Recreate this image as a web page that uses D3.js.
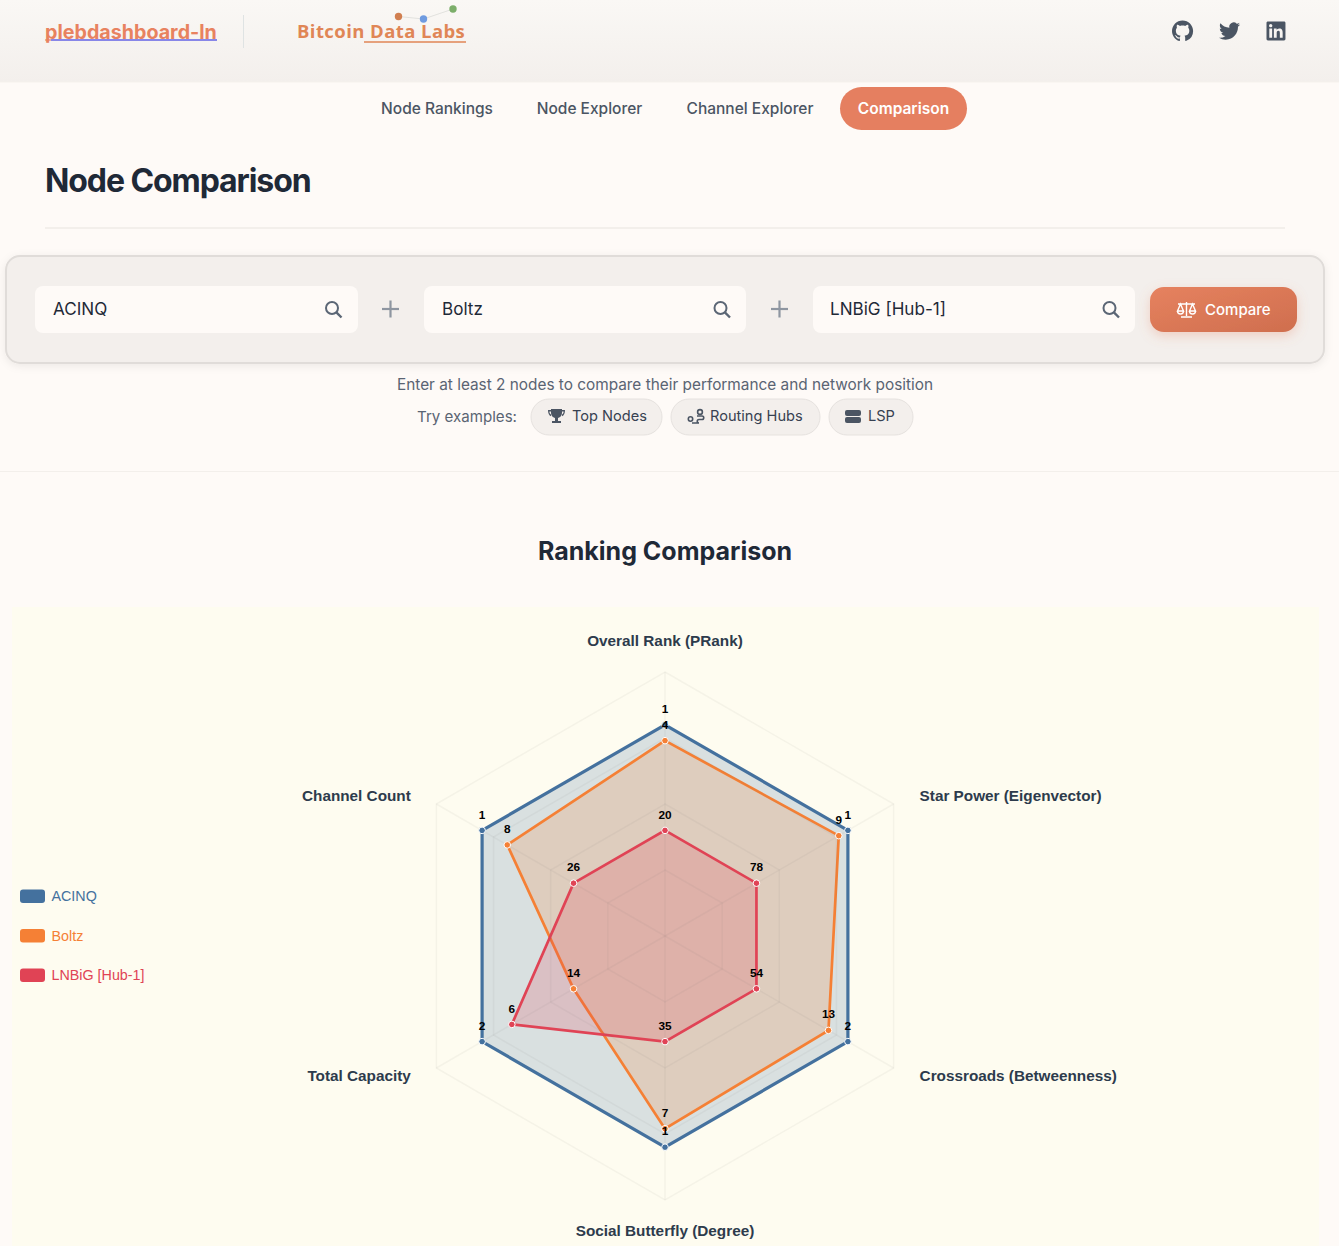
<!DOCTYPE html>
<html><head><meta charset="utf-8">
<script src="https://cdn.jsdelivr.net/npm/d3@7/dist/d3.min.js"></script>
<style>
html,body{margin:0;padding:0;background:#fefaf7;overflow:hidden}
svg{display:block}
text{font-family:Inter,"Noto Sans",sans-serif}
.chart text{font-family:"Liberation Sans",Arial,sans-serif}
</style></head><body>
<script>
const axes = ["Overall Rank (PRank)","Star Power (Eigenvector)","Crossroads (Betweenness)","Social Butterfly (Degree)","Total Capacity","Channel Count"];
const nodes = ["ACINQ","Boltz","LNBiG [Hub-1]"];
const colors = ["#44719e","#f58035","#e04355"];
const acinqRanks = [1,1,2,1,2,1];
const boltzRanks = [4,9,13,7,14,8];
const lnbigRanks = [20,78,54,35,6,26];
const acinqScores = [80,80,80,80,80,80];
const boltzScores = [74,76,71.5,73,40,69];
const lnbigScores = [40,40,40,40,67,40];
const gridLevels = [25,50,75,100];
const navItems = ["Node Rankings","Node Explorer","Channel Explorer","Comparison"];
const inputValues = ["ACINQ","Boltz","LNBiG [Hub-1]"];
const examples = ["Top Nodes","Routing Hubs","LSP"];

const W=1339,H=1246;
const svg=d3.select("body").append("svg").attr("width",W).attr("height",H).attr("viewBox",`0 0 ${W} ${H}`);
const defs=svg.append("defs");
const hg=defs.append("linearGradient").attr("id","hdr").attr("x1",0).attr("x2",0).attr("y1",0).attr("y2",1);
hg.append("stop").attr("offset",0).attr("stop-color","#faf8f5");
hg.append("stop").attr("offset",1).attr("stop-color","#f3efec");
const bg=defs.append("linearGradient").attr("id","btn").attr("x1",0).attr("x2",1).attr("y1",0).attr("y2",1);
bg.append("stop").attr("offset",0).attr("stop-color","#e6825f");
bg.append("stop").attr("offset",1).attr("stop-color","#cf6e4e");
const sh=defs.append("filter").attr("id","sh").attr("x","-10%").attr("y","-30%").attr("width","120%").attr("height","170%");
sh.append("feDropShadow").attr("dx",0).attr("dy",2).attr("stdDeviation",4).attr("flood-color","#000").attr("flood-opacity",.07);
const sb=defs.append("filter").attr("id","sb").attr("x","-20%").attr("y","-40%").attr("width","140%").attr("height","190%");
sb.append("feDropShadow").attr("dx",0).attr("dy",4).attr("stdDeviation",6).attr("flood-color","#e5805f").attr("flood-opacity",.3);

function rect(x,y,w,h,r,fill,extra={}){const s=svg.append("rect").attr("x",x).attr("y",y).attr("width",w).attr("height",h).attr("rx",r).attr("fill",fill);Object.entries(extra).forEach(([k,v])=>s.attr(k,v));return s;}
function txt(s,x,y,size,weight,fill,anchor="start",family){const t=svg.append("text").attr("x",x).attr("y",y+1).attr("font-size",size).attr("font-weight",weight).attr("fill",fill).attr("text-anchor",anchor).attr("dominant-baseline","middle").text(s);if(family)t.style("font-family",family);return t;}
function line(x1,y1,x2,y2,c,w){return svg.append("line").attr("x1",x1).attr("y1",y1).attr("x2",x2).attr("y2",y2).attr("stroke",c).attr("stroke-width",w);}
function icon(d,x,y,scale,fill){return svg.append("path").attr("d",d).attr("transform",`translate(${x},${y}) scale(${scale})`).attr("fill",fill).attr("fill-rule","evenodd");}

// header
rect(0,0,W,82,0,"url(#hdr)");
line(0,82,W,82,"#f5f1ed",1);
txt("plebdashboard-ln",45,33,19.7,700,"#e8825f");
line(51,40,217,40,"#1a1ae0",1.2);
line(45,40,51,40,"#e8825f",1.2);
line(243.5,15,243.5,48,"#dfe3e3",1);
txt("Bitcoin Data Labs",297,32.5,18.5,700,"#e08656","start","'Open Sans'").attr("letter-spacing",.42);
line(364,42,466,42,"#e08656",1.6);
const logoDots=[[398.5,16.5,"#d17f50"],[423.5,19,"#6f9be0"],[453,9,"#7cae6a"]];
logoDots.forEach((p,i,a)=>{if(i)line(a[i-1][0],a[i-1][1],p[0],p[1],"#dcdcd8",.8);});
logoDots.forEach(p=>svg.append("circle").attr("cx",p[0]).attr("cy",p[1]).attr("r",3.7).attr("fill",p[2]));

const ic="#4b5563";
icon("M8 0C3.58 0 0 3.58 0 8c0 3.54 2.29 6.53 5.47 7.59.4.07.55-.17.55-.38 0-.19-.01-.82-.01-1.49-2.01.37-2.53-.49-2.69-.94-.09-.23-.48-.94-.82-1.13-.28-.15-.68-.52-.01-.53.63-.01 1.08.58 1.23.82.72 1.21 1.87.87 2.33.66.07-.52.28-.87.51-1.07-1.78-.2-3.64-.89-3.64-3.95 0-.87.31-1.59.82-2.15-.08-.2-.36-1.02.08-2.12 0 0 .67-.21 2.2.82.64-.18 1.32-.27 2-.27.68 0 1.36.09 2 .27 1.53-1.04 2.2-.82 2.2-.82.44 1.1.16 1.92.08 2.12.51.56.82 1.27.82 2.15 0 3.07-1.87 3.75-3.65 3.95.29.25.54.73.54 1.48 0 1.07-.01 1.93-.01 2.2 0 .21.15.46.55.38A8.013 8.013 0 0016 8c0-4.42-3.58-8-8-8z",1172,20.5,1.32,ic);
icon("M23.953 4.57a10 10 0 01-2.825.775 4.958 4.958 0 002.163-2.723c-.951.555-2.005.959-3.127 1.184a4.92 4.92 0 00-8.384 4.482C7.69 8.095 4.067 6.13 1.64 3.162a4.822 4.822 0 00-.666 2.475c0 1.71.87 3.213 2.188 4.096a4.904 4.904 0 01-2.228-.616v.06a4.923 4.923 0 003.946 4.827 4.996 4.996 0 01-2.212.085 4.936 4.936 0 004.604 3.417 9.867 9.867 0 01-6.102 2.105c-.39 0-.779-.023-1.17-.067a13.995 13.995 0 007.557 2.209c9.053 0 13.998-7.496 13.998-13.985 0-.21 0-.42-.015-.63A9.935 9.935 0 0024 4.59z",1219,20.5,.88,ic);
icon("M20.447 20.452h-3.554v-5.569c0-1.328-.027-3.037-1.852-3.037-1.853 0-2.136 1.445-2.136 2.939v5.667H9.351V9h3.414v1.561h.046c.477-.9 1.637-1.85 3.37-1.85 3.601 0 4.267 2.37 4.267 5.455v6.286zM5.337 7.433c-1.144 0-2.063-.926-2.063-2.065 0-1.138.92-2.063 2.063-2.063 1.14 0 2.064.925 2.064 2.063 0 1.139-.925 2.065-2.064 2.065zm1.782 13.019H3.555V9h3.564v11.452zM22.225 0H1.771C.792 0 0 .774 0 1.729v20.542C0 23.227.792 24 1.771 24h20.451C23.2 24 24 23.227 24 22.271V1.729C24 .774 23.2 0 22.222 0h.003z",1266.5,21.5,.79,ic);

// nav
rect(840,87,127,43,21.5,"#e57f60");
const navX=[437,589.5,750,903.5];
navItems.forEach((n,i)=>txt(n,navX[i],109,15.5,i==3?600:500,i==3?"#fff":"#4b5563","middle"));

// title
txt("Node Comparison",45,182.5,32,700,"#1f2937").attr("letter-spacing",-1.08);
line(45,228,1285,228,"#f3efeb",2);

// search card
rect(6,256,1318,107,14,"#f3efec",{stroke:"#e0dcd9","stroke-width":2,filter:"url(#sh)"});
const inputX=[35,424,813];
inputValues.forEach((v,i)=>{
  const x=inputX[i];
  rect(x,286,i==0?323:322,47,8,"#fefaf7");
  txt(v,x+(i==2?17:18),309.5,17.1,400,"#1f2937");
  const tcx=x+(i==0?297:296.5),tcy=308;
  svg.append("circle").attr("cx",tcx).attr("cy",tcy).attr("r",6).attr("fill","none").attr("stroke","#5b6675").attr("stroke-width",2);
  line(tcx+4.4,tcy+4.4,tcx+9.5,tcy+9.5,"#5b6675",2.4);
});
[390.5,779.5].forEach(x=>{line(x-8.5,309,x+8.5,309,"#8e96a1",2.2);line(x,300.5,x,317.5,"#8e96a1",2.2);});

// compare button
rect(1150,287,147,45,14,"url(#btn)",{filter:"url(#sb)"});
svg.append("path").attr("d","M1186.5 302v14M1181 317h11M1178 304h17M1180.5 304l-3 7h6zM1192.5 304l-3 7h6zM1177.5 311a3 3 0 0 0 6 0M1189.5 311a3 3 0 0 0 6 0").attr("fill","none").attr("stroke","#fff").attr("stroke-width",1.4);
txt("Compare",1205,309.5,15,500,"#fff");

// hints
txt("Enter at least 2 nodes to compare their performance and network position",665,384.5,15.37,400,"#5a6473","middle");
txt("Try examples:",417,416.5,15.1,400,"#5a6473");
const pillX=[[531,131],[671,149],[829,84]];
examples.forEach((e,i)=>{
  rect(pillX[i][0],399,pillX[i][1],36,18,"#f3efec",{stroke:"#e6e2df","stroke-width":1});
});
const exampleX=[572,710,868];
examples.forEach((e,i)=>txt(e,exampleX[i],416.5,14.6,400,"#374151"));
svg.append("path").attr("d","M551 409h11v4a5.5 5.5 0 0 1-4 5v3h3v2h-9v-2h3v-3a5.5 5.5 0 0 1-4-5zM548 410h3v1.5h-1.6c0 1.4.5 2.5 1.6 3v1.7c-2-.8-3-2.7-3-6.2zM565 410h-3v1.5h1.6c0 1.4-.5 2.5-1.6 3v1.7c2-.8 3-2.7 3-6.2z").attr("fill","#4b5563");
svg.append("g").call(g=>{
  g.append("circle").attr("cx",690.5).attr("cy",419).attr("r",2.2).attr("fill","none").attr("stroke","#4b5563").attr("stroke-width",1.6);
  g.append("circle").attr("cx",700).attr("cy",412).attr("r",2.4).attr("fill","none").attr("stroke","#4b5563").attr("stroke-width",1.6);
  g.append("path").attr("d","M697 416h5a1.7 1.7 0 0 1 0 3.5h-3a1.7 1.7 0 0 0 0 3.5h-7").attr("fill","none").attr("stroke","#4b5563").attr("stroke-width",1.6);
});
rect(845,410,16,6,2,"#4b5563");
rect(845,417,16,6,2,"#4b5563");

line(0,471.5,W,471.5,"#f3efeb",1);

txt("Ranking Comparison",665,552.5,25,700,"#1f2937","middle");

// chart panel
rect(12,607,1307,639,0,"#fefcf0");

const cx=665,cy=936,maxR=264;
const r=d3.scaleLinear().domain([0,100]).range([0,maxR]);
const angle=d3.scalePoint().domain(d3.range(axes.length+1)).range([0,2*Math.PI]);
const polar=(i,v)=>[cx+r(v)*Math.sin(angle(i)),cy-r(v)*Math.cos(angle(i))];
const chart=svg.append("g").attr("class","chart");
const radial=d3.lineRadial().angle((d,i)=>angle(i)).radius(d=>r(d)).curve(d3.curveLinearClosed);
const plot=chart.append("g").attr("transform",`translate(${cx},${cy})`);

// series
const seriesScores=[acinqScores,boltzScores,lnbigScores];
const seriesRanks=[acinqRanks,boltzRanks,lnbigRanks];
seriesScores.forEach((s,k)=>{
  plot.append("path").attr("d",radial(s)).attr("fill",colors[k]).attr("fill-opacity",.2).attr("stroke",colors[k]).attr("stroke-width",k==0?3.2:2.7).attr("stroke-linejoin","miter");
});
// grid over the fills
const gridInk="#6e6e60", gridAlpha=.06;
gridLevels.forEach(l=>plot.append("path").attr("d",radial(axes.map(()=>l))).attr("fill","none").attr("stroke",gridInk).attr("stroke-opacity",gridAlpha).attr("stroke-width",1.5));
axes.forEach((a,i)=>{const [x,y]=polar(i,100);chart.append("line").attr("x1",cx).attr("y1",cy).attr("x2",x).attr("y2",y).attr("stroke",gridInk).attr("stroke-opacity",gridAlpha).attr("stroke-width",1.5);});

seriesScores.forEach((s,k)=>{
  s.forEach((v,i)=>{const [x,y]=polar(i,v);
    chart.append("circle").attr("cx",x).attr("cy",y).attr("r",3.3).attr("fill",colors[k]).attr("stroke","#fff").attr("stroke-width",1);
  });
});
seriesScores.forEach((s,k)=>{
  s.forEach((v,i)=>{const [x,y]=polar(i,v);
    chart.append("text").attr("x",x).attr("y",y-15).attr("text-anchor","middle").attr("dominant-baseline","middle").attr("font-size",11.8).attr("font-weight",700).attr("fill","#000").text(seriesRanks[k][i]);
  });
});

// axis labels
axes.forEach((a,i)=>{
  const th=angle(i),s=Math.sin(th),c=Math.cos(th),side=Math.abs(s)>.1;
  const x=cx+(s>0?294:293.5)*s, y=cy-(side?280:295)*c+1;
  chart.append("text").attr("x",x).attr("y",y).attr("text-anchor",!side?"middle":s>0?"start":"end").attr("dominant-baseline","middle").attr("font-size",15.3).attr("font-weight",700).attr("fill","#2d3b4c").text(a);
});

// legend
const ly=d3.scalePoint().domain(nodes).range([896,975]);
nodes.forEach((n,k)=>{
  chart.append("rect").attr("x",20).attr("y",ly(n)-6.5).attr("width",25).attr("height",13.5).attr("rx",3).attr("fill",colors[k]);
  chart.append("text").attr("x",51.5).attr("y",ly(n)+1.5).attr("dominant-baseline","middle").attr("font-size",14.3).attr("fill",colors[k]).text(n);
});
</script>
</body></html>
